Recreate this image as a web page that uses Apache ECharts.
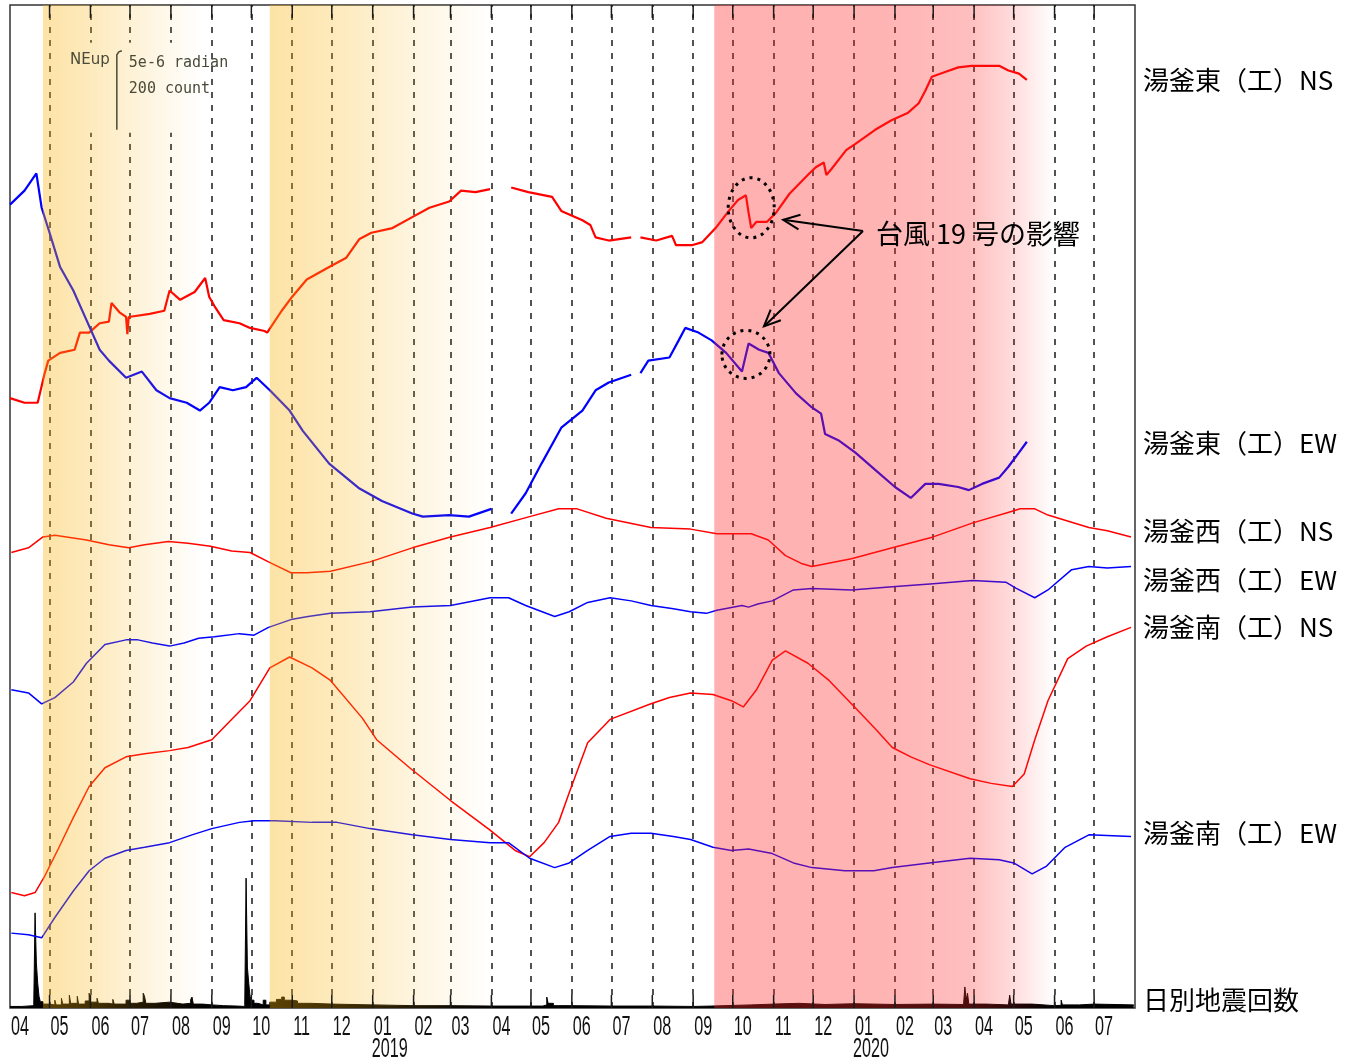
<!DOCTYPE html>
<html><head><meta charset="utf-8">
<script src="https://cdn.jsdelivr.net/npm/echarts@6/dist/echarts.min.js"></script>
<style>html,body{margin:0;padding:0;background:#fff}#c{width:1356px;height:1061px}</style>
</head><body><div id="c"></div>
<script>
// ---------------- data ----------------
const MONTHS = ['2018-04-01','2018-05-01','2018-06-01','2018-07-01','2018-08-01','2018-09-01','2018-10-01','2018-11-01','2018-12-01',
  '2019-01-01','2019-02-01','2019-03-01','2019-04-01','2019-05-01','2019-06-01','2019-07-01','2019-08-01','2019-09-01','2019-10-01','2019-11-01','2019-12-01',
  '2020-01-01','2020-02-01','2020-03-01','2020-04-01','2020-05-01','2020-06-01','2020-07-01'];
const MONTH_LABELS = ['04','05','06','07','08','09','10','11','12','01','02','03','04','05','06','07','08','09','10','11','12','01','02','03','04','05','06','07'];
const YEAR_AT = ['2019-01-01','2020-01-01'];
const YEAR_LABELS = ['2019','2020'];
const X_RANGE = ['2018-04-01','2020-08-01'];
const BANDS_YELLOW = [['2018-04-26','2018-08-26'],['2018-10-15','2019-04-02']];
const BAND_RED = ['2019-09-17','2020-06-01'];
const STATION_LABELS = ['湯釜東（工）NS','湯釜東（工）EW','湯釜西（工）NS','湯釜西（工）EW','湯釜南（工）NS','湯釜南（工）EW','日別地震回数'];
const NOTE_TEXT = '台風 19 号の影響';
const SCALE_TEXT = ['NEup','5e-6 radian','200 count'];

// tilt, µrad (arbitrary per-trace offset)
const EAST_NS = [['2018-04-01',39.1],['2018-04-12',38.8],['2018-04-22',38.8],['2018-04-27',40.6],['2018-04-30',41.5],['2018-05-09',42.0],['2018-05-20',42.2],['2018-05-24',43.3],['2018-05-31',43.3],['2018-06-08',43.9],['2018-06-15',44.0],['2018-06-17',45.2],['2018-06-23',44.6],['2018-06-28',44.3],['2018-06-29',43.2],['2018-06-30',44.3],['2018-07-16',44.5],['2018-07-27',44.7],['2018-07-31',46.0],['2018-08-08',45.4],['2018-08-19',45.9],['2018-08-27',46.8],['2018-08-30',45.6],['2018-09-03',45.0],['2018-09-10',44.1],['2018-09-22',43.9],['2018-09-30',43.6],['2018-10-11',43.4],['2018-10-13',43.3],['2018-10-24',44.7],['2018-11-01',45.6],['2018-11-12',46.7],['2018-11-29',47.5],['2018-12-12',48.1],['2018-12-22',49.3],['2018-12-31',49.7],['2019-01-16',50.0],['2019-01-31',50.7],['2019-02-13',51.3],['2019-02-28',51.7],['2019-03-09',52.4],['2019-03-20',52.3],['2019-03-31',52.5],['2019-04-08',null],['2019-04-16',52.6],['2019-04-29',52.3],['2019-05-17',52.0],['2019-05-24',51.1],['2019-06-09',50.5],['2019-06-15',50.2],['2019-06-19',49.4],['2019-06-29',49.2],['2019-07-16',49.4],['2019-07-20',null],['2019-07-23',49.4],['2019-08-04',49.2],['2019-08-16',49.5],['2019-08-19',48.9],['2019-08-31',48.9],['2019-09-08',49.1],['2019-09-18',50.0],['2019-09-28',51.1],['2019-10-05',51.8],['2019-10-11',52.1],['2019-10-13',51.0],['2019-10-15',50.0],['2019-10-19',50.4],['2019-10-27',50.4],['2019-11-03',51.0],['2019-11-13',52.2],['2019-11-28',53.5],['2019-12-03',53.9],['2019-12-09',54.2],['2019-12-11',53.4],['2019-12-15',53.8],['2019-12-26',55.0],['2020-01-02',55.4],['2020-01-17',56.3],['2020-01-29',56.9],['2020-02-11',57.4],['2020-02-19',58.0],['2020-02-24',58.8],['2020-02-29',59.7],['2020-03-10',60.0],['2020-03-20',60.3],['2020-03-30',60.4],['2020-04-12',60.4],['2020-04-20',60.4],['2020-04-27',60.1],['2020-05-05',59.9],['2020-05-11',59.5]];
const EAST_EW = [['2018-04-01',51.5],['2018-04-12',52.4],['2018-04-21',53.5],['2018-04-25',51.3],['2018-05-01',49.7],['2018-05-09',47.5],['2018-05-19',46.0],['2018-05-29',44.1],['2018-06-08',42.2],['2018-06-15',41.5],['2018-06-28',40.4],['2018-07-10',40.8],['2018-07-21',39.6],['2018-07-31',39.1],['2018-08-13',38.8],['2018-08-23',38.3],['2018-08-30',38.8],['2018-09-07',39.8],['2018-09-17',39.6],['2018-09-27',39.8],['2018-10-05',40.4],['2018-10-15',39.6],['2018-10-30',38.3],['2018-11-09',37.0],['2018-11-29',34.9],['2018-12-22',33.3],['2019-01-08',32.5],['2019-01-31',31.7],['2019-02-08',31.5],['2019-02-28',31.6],['2019-03-15',31.5],['2019-04-01',32.0],['2019-04-08',null],['2019-04-16',31.7],['2019-04-27',33.0],['2019-05-09',34.9],['2019-05-24',37.2],['2019-06-09',38.3],['2019-06-19',39.6],['2019-06-29',40.1],['2019-07-16',40.6],['2019-07-20',null],['2019-07-23',40.7],['2019-07-29',41.5],['2019-08-14',41.7],['2019-08-21',42.8],['2019-08-26',43.6],['2019-09-05',43.3],['2019-09-15',42.8],['2019-09-26',42.0],['2019-10-08',40.8],['2019-10-13',42.6],['2019-10-21',42.2],['2019-10-28',42.0],['2019-11-05',40.7],['2019-11-18',39.4],['2019-11-30',38.5],['2019-12-07',38.1],['2019-12-10',36.8],['2019-12-20',36.4],['2020-01-02',35.6],['2020-01-17',34.5],['2020-02-01',33.4],['2020-02-13',32.7],['2020-02-24',33.6],['2020-03-05',33.6],['2020-03-20',33.4],['2020-03-28',33.2],['2020-04-07',33.6],['2020-04-20',34.0],['2020-04-27',34.7],['2020-05-05',35.6],['2020-05-11',36.3]];
const WEST_NS = [['2018-04-02',29.2],['2018-04-15',29.5],['2018-04-26',30.2],['2018-05-05',30.3],['2018-05-29',30.0],['2018-06-15',29.7],['2018-06-30',29.5],['2018-07-12',29.7],['2018-07-30',29.9],['2018-08-14',29.8],['2018-08-31',29.6],['2018-09-16',29.3],['2018-09-30',29.2],['2018-10-14',28.6],['2018-10-31',27.9],['2018-11-12',27.9],['2018-11-30',28.0],['2018-12-30',28.6],['2019-01-31',29.5],['2019-03-01',30.2],['2019-03-31',30.8],['2019-04-30',31.5],['2019-05-22',32.0],['2019-06-05',32.0],['2019-06-27',31.4],['2019-07-31',30.8],['2019-08-30',30.7],['2019-09-19',30.4],['2019-10-08',30.4],['2019-10-15',30.4],['2019-10-28',30.0],['2019-11-10',29.0],['2019-11-22',28.5],['2019-11-30',28.3],['2019-12-30',28.8],['2020-01-30',29.5],['2020-03-01',30.2],['2020-03-31',31.1],['2020-04-28',31.8],['2020-05-06',32.0],['2020-05-17',32.0],['2020-05-27',31.6],['2020-06-27',30.8],['2020-07-11',30.6],['2020-07-29',30.2]];
const WEST_EW = [['2018-04-02',20.4],['2018-04-15',20.2],['2018-04-25',19.5],['2018-05-05',19.9],['2018-05-19',20.9],['2018-05-29',22.1],['2018-06-12',23.3],['2018-06-28',23.6],['2018-07-07',23.6],['2018-07-18',23.4],['2018-07-31',23.2],['2018-08-11',23.4],['2018-08-22',23.7],['2018-09-03',23.8],['2018-09-22',24.0],['2018-10-03',23.9],['2018-10-14',24.4],['2018-10-31',24.9],['2018-11-13',25.1],['2018-11-30',25.3],['2018-12-30',25.4],['2019-01-31',25.7],['2019-03-01',25.8],['2019-03-31',26.3],['2019-04-14',26.3],['2019-04-27',25.8],['2019-05-19',25.1],['2019-05-30',25.4],['2019-06-13',26.0],['2019-06-30',26.3],['2019-07-16',26.1],['2019-07-31',25.8],['2019-08-17',25.6],['2019-08-30',25.4],['2019-09-11',25.3],['2019-09-19',25.5],['2019-10-08',25.8],['2019-10-13',25.7],['2019-10-20',25.9],['2019-10-31',26.1],['2019-11-16',26.8],['2019-11-30',26.9],['2019-12-30',26.8],['2020-01-30',27.0],['2020-03-01',27.2],['2020-03-31',27.4],['2020-04-25',27.3],['2020-05-03',26.9],['2020-05-17',26.3],['2020-05-27',26.8],['2020-06-14',28.1],['2020-06-27',28.3],['2020-07-11',28.2],['2020-07-29',28.3]];
const SOUTH_NS = [['2018-04-02',7.4],['2018-04-12',7.2],['2018-04-20',7.4],['2018-04-27',8.4],['2018-05-07',10.1],['2018-05-19',12.2],['2018-05-31',14.2],['2018-06-12',15.4],['2018-06-28',16.1],['2018-07-12',16.3],['2018-07-31',16.5],['2018-08-14',16.7],['2018-09-01',17.2],['2018-09-16',18.5],['2018-09-30',19.7],['2018-10-15',21.8],['2018-10-30',22.5],['2018-11-16',21.8],['2018-11-30',21.0],['2018-12-24',18.6],['2019-01-04',17.2],['2019-01-29',15.4],['2019-03-01',13.3],['2019-03-31',11.4],['2019-04-19',10.1],['2019-04-30',9.7],['2019-05-11',10.6],['2019-05-22',11.9],['2019-05-30',13.8],['2019-06-13',17.0],['2019-06-30',18.5],['2019-07-31',19.5],['2019-08-14',19.9],['2019-08-30',20.2],['2019-09-16',20.1],['2019-09-30',19.7],['2019-10-09',19.3],['2019-10-19',20.4],['2019-10-31',22.3],['2019-11-10',22.9],['2019-11-27',22.1],['2019-12-13',21.0],['2019-12-30',19.5],['2020-01-16',18.0],['2020-01-30',16.7],['2020-02-13',16.1],['2020-02-27',15.6],['2020-03-29',14.7],['2020-04-14',14.4],['2020-04-30',14.2],['2020-05-09',15.0],['2020-05-17',17.2],['2020-05-27',19.7],['2020-06-11',22.4],['2020-06-25',23.2],['2020-07-11',23.8],['2020-07-29',24.4]];
const SOUTH_EW = [['2018-04-02',4.8],['2018-04-15',4.7],['2018-04-25',4.5],['2018-05-05',5.8],['2018-05-19',7.5],['2018-05-31',8.8],['2018-06-12',9.6],['2018-06-28',10.1],['2018-07-12',10.3],['2018-07-31',10.6],['2018-08-17',11.1],['2018-09-01',11.5],['2018-09-22',11.9],['2018-10-03',12.0],['2018-10-19',12.0],['2018-11-16',11.9],['2018-12-05',11.9],['2018-12-30',11.5],['2019-01-31',11.1],['2019-03-01',10.8],['2019-03-31',10.6],['2019-04-14',10.6],['2019-04-30',9.6],['2019-05-19',9.0],['2019-05-30',9.3],['2019-06-13',10.1],['2019-06-30',11.0],['2019-07-16',11.2],['2019-07-31',11.2],['2019-08-17',11.0],['2019-08-30',10.8],['2019-09-16',10.3],['2019-09-30',10.1],['2019-10-13',10.2],['2019-10-31',9.9],['2019-11-16',9.3],['2019-11-30',9.0],['2019-12-25',8.8],['2020-01-16',8.8],['2020-01-30',9.0],['2020-02-27',9.3],['2020-03-29',9.6],['2020-04-20',9.5],['2020-05-01',9.3],['2020-05-15',8.6],['2020-05-26',9.1],['2020-06-09',10.3],['2020-06-27',11.1],['2020-07-29',11.0]];
// daily earthquake counts
const QUAKE_COUNTS = [['2018-04-01',4],['2018-04-10',6],['2018-04-19',9],['2018-04-20',244],['2018-04-21',115],['2018-04-22',64],['2018-04-23',30],['2018-04-24',16],['2018-04-26',10],['2018-05-01',8],['2018-05-05',20],['2018-05-06',8],['2018-05-10',25],['2018-05-11',10],['2018-05-16',33],['2018-05-17',12],['2018-05-22',30],['2018-05-23',10],['2018-05-28',18],['2018-05-31',38],['2018-06-01',15],['2018-06-06',25],['2018-06-07',12],['2018-06-15',10],['2018-06-18',22],['2018-06-19',10],['2018-06-28',20],['2018-07-01',12],['2018-07-06',15],['2018-07-11',38],['2018-07-12',30],['2018-07-13',12],['2018-07-20',15],['2018-07-31',10],['2018-08-10',12],['2018-08-16',22],['2018-08-17',28],['2018-08-18',10],['2018-08-25',8],['2018-09-01',12],['2018-09-02',6],['2018-09-10',5],['2018-09-20',4],['2018-09-26',10],['2018-09-27',333],['2018-09-28',105],['2018-09-29',64],['2018-09-30',30],['2018-10-01',20],['2018-10-03',12],['2018-10-06',8],['2018-10-10',20],['2018-10-12',8],['2018-10-15',15],['2018-10-20',22],['2018-10-24',28],['2018-10-26',20],['2018-11-01',18],['2018-11-05',12],['2018-11-15',10],['2018-12-01',8],['2019-01-01',6],['2019-02-01',6],['2019-03-01',5],['2019-04-01',5],['2019-05-10',8],['2019-05-13',28],['2019-05-14',12],['2019-05-18',6],['2019-06-01',5],['2019-07-01',5],['2019-08-01',4],['2019-09-01',5],['2019-09-15',8],['2019-10-15',10],['2019-11-01',12],['2019-11-20',9],['2019-12-10',11],['2020-01-01',9],['2020-02-01',10],['2020-03-01',9],['2020-03-24',12],['2020-03-25',54],['2020-03-26',20],['2020-03-27',38],['2020-03-28',10],['2020-04-10',8],['2020-04-27',12],['2020-04-28',33],['2020-04-29',10],['2020-05-15',6],['2020-06-01',7],['2020-06-06',20],['2020-06-07',8],['2020-06-20',10],['2020-07-01',8],['2020-07-31',6]];

(function(){
// ---------------- helpers ----------------
function toTs(s){const p=s.split('-');return new Date(+p[0],+p[1]-1,+p[2]).getTime();}
function pts(arr){return arr.map(d=>[toTs(d[0]), d[1]===null?null:d[1]]);}
const TILT_MAX = 64.3;              // µrad over plot height
const COUNT_MAX = TILT_MAX*40;      // 5 µrad <-> 200 count
const RED='#ff0000', BLUE='#0000ff';
const Y_RGB='249,178,12', R_RGB='255,41,41';
function grad(rgb, stops){return {type:'linear',x:0,y:0,x2:1,y2:0,colorStops:stops.map(s=>({offset:s[0],color:'rgba('+rgb+','+s[1]+')'}))};}

const chart = echarts.init(document.getElementById('c'), null, {renderer:'canvas'});
function tiltSeries(name, data, color, width){
  return {name, type:'line', data:pts(data), symbol:'none', connectNulls:false, z:2,
    lineStyle:{color, width}, itemStyle:{color}, silent:true};
}
const option = {
  animation:false,
  backgroundColor:'#fff',
  grid:{left:10, top:5, right:221, bottom:53, show:true, borderColor:'#333', borderWidth:1.5, backgroundColor:'#fff'},
  xAxis:[{type:'time', min:toTs(X_RANGE[0]), max:toTs(X_RANGE[1]), axisLabel:{show:false}, axisTick:{show:false}, axisLine:{show:false}, splitLine:{show:false}}],
  yAxis:[{type:'value', min:0, max:TILT_MAX, show:false, splitLine:{show:false}},
         {type:'value', min:0, max:COUNT_MAX, show:false, splitLine:{show:false}}],
  series:[
    {name:STATION_LABELS[6], type:'line', yAxisIndex:1, step:'end', symbol:'none', data:pts(QUAKE_COUNTS), z:2, silent:true,
     lineStyle:{color:'#000', width:1}, areaStyle:{color:'#000', opacity:1},
     markLine:{silent:true, z:1, symbol:['none','none'], label:{show:false},
       lineStyle:{color:'#1a1a1a', width:1.5, type:[6,7]},
       data:MONTHS.slice(1).map(m=>({xAxis:toTs(m)}))},
     markArea:{silent:true, z:10, label:{show:false},
       data:[
        [{xAxis:toTs(BANDS_YELLOW[0][0]), itemStyle:{color:grad(Y_RGB,[[0,0.37],[0.3,0.27],[0.6,0.15],[0.85,0.05],[1,0]])}},{xAxis:toTs(BANDS_YELLOW[0][1])}],
        [{xAxis:toTs(BANDS_YELLOW[1][0]), itemStyle:{color:grad(Y_RGB,[[0,0.37],[0.3,0.27],[0.6,0.15],[0.85,0.05],[1,0]])}},{xAxis:toTs(BANDS_YELLOW[1][1])}],
        [{xAxis:toTs(BAND_RED[0]), itemStyle:{color:grad(R_RGB,[[0,0.37],[0.5,0.35],[0.75,0.3],[0.88,0.16],[1,0]])}},{xAxis:toTs(BAND_RED[1])}]
       ]}
    },
    tiltSeries(STATION_LABELS[0], EAST_NS, RED, 2.2),
    tiltSeries(STATION_LABELS[1], EAST_EW, BLUE, 2.2),
    tiltSeries(STATION_LABELS[2], WEST_NS, RED, 1.5),
    tiltSeries(STATION_LABELS[3], WEST_EW, BLUE, 1.5),
    tiltSeries(STATION_LABELS[4], SOUTH_NS, RED, 1.5),
    tiltSeries(STATION_LABELS[5], SOUTH_EW, BLUE, 1.5)
  ]
};
chart.setOption(option);

// ---------------- decorations ----------------
function px(date, v){return chart.convertToPixel({xAxisIndex:0, yAxisIndex:0}, [toTs(date), v]);}
const els = [];
const plotTop = px(X_RANGE[0], TILT_MAX)[1], plotBottom = px(X_RANGE[0], 0)[1];
function txt(x, y, text, font, fill, align, extra){
  return Object.assign({type:'text', z:20, x, y, style:{text, font, fill, textAlign:align, textVerticalAlign:'middle', align, verticalAlign:'middle'}}, extra||{});
}
MONTHS.forEach((m,i)=>{
  const x = px(m,0)[0];
  if(i>0){
    els.push({type:'line', z:20, shape:{x1:x,y1:plotTop,x2:x,y2:plotTop+13}, style:{stroke:'#1a1a1a', lineWidth:1.5}});
    els.push({type:'line', z:20, shape:{x1:x,y1:plotBottom-13,x2:x,y2:plotBottom}, style:{stroke:'#1a1a1a', lineWidth:1.5}});
  }
  els.push(txt(x+1, 1028, MONTH_LABELS[i], '27px "Liberation Sans"', '#111', 'left', {scaleX:0.6}));
});
YEAR_AT.forEach((m,i)=>{
  const x = px(m,0)[0];
  els.push(txt(x-1, 1050, YEAR_LABELS[i], '27px "Liberation Sans"', '#111', 'left', {scaleX:0.6}));
});
const labelY = [80,443,531,580,627,833,1000];
STATION_LABELS.forEach((t,i)=>{
  els.push(txt(1143, labelY[i], t, '26px "Noto Sans CJK JP"', '#000', 'left'));
});
// scale bar (5 µrad / 200 count) with a cleared box behind it (under the shading)
const sbTop = px('2018-06-21', 61.3), sbBot = px('2018-06-21', 56.3);
els.push({type:'rect', z:5, shape:{x:sbTop[0]-50, y:sbTop[1]-9, width:138, height:sbBot[1]-sbTop[1]+12}, style:{fill:'#fff'}});
els.push({type:'polyline', z:20, shape:{points:[[sbTop[0]+5,sbTop[1]-1],[sbTop[0]+2,sbTop[1]],[sbTop[0],sbTop[1]+3],[sbBot[0],sbBot[1]]]},
  style:{stroke:'#4a4a3a', lineWidth:1.5, fill:null}});
els.push(txt(sbTop[0]-7, sbTop[1]+8, SCALE_TEXT[0], '15px "DejaVu Sans"', '#4a4a3a', 'right'));
els.push(txt(sbTop[0]+12, sbTop[1]+11, SCALE_TEXT[1], '15px "DejaVu Sans Mono"', '#4a4a3a', 'left'));
els.push(txt(sbTop[0]+12, sbTop[1]+37, SCALE_TEXT[2], '15px "DejaVu Sans Mono"', '#4a4a3a', 'left'));
// typhoon annotation
const c1 = px('2019-10-15', 51.3), c2 = px('2019-10-11', 41.9);
els.push({type:'ellipse', z:20, shape:{cx:c1[0], cy:c1[1], rx:23, ry:30}, style:{fill:null, stroke:'#000', lineWidth:3, lineDash:[3,5]}});
els.push({type:'ellipse', z:20, shape:{cx:c2[0], cy:c2[1], rx:24, ry:24}, style:{fill:null, stroke:'#000', lineWidth:3, lineDash:[3,5]}});
const noteX = 876, noteY = 234;
els.push(txt(noteX, noteY, NOTE_TEXT, '27px "Noto Sans CJK JP"', '#000', 'left'));
function arrow(from, to){
  const dx=to[0]-from[0], dy=to[1]-from[1], L=Math.hypot(dx,dy), bx=-dx/L, by=-dy/L, a=0.42, h=18;
  const c=Math.cos(a), s=Math.sin(a);
  const p1=[to[0]+h*(bx*c-by*s), to[1]+h*(bx*s+by*c)];
  const p2=[to[0]+h*(bx*c+by*s), to[1]+h*(-bx*s+by*c)];
  els.push({type:'line', z:20, shape:{x1:from[0],y1:from[1],x2:to[0],y2:to[1]}, style:{stroke:'#000', lineWidth:2}});
  els.push({type:'polyline', z:20, shape:{points:[p1,to,p2]}, style:{stroke:'#000', lineWidth:2, fill:null}});
}
const origin = [noteX-13, noteY-3];
arrow(origin, [c1[0]+32, c1[1]+12]);
arrow(origin, [c2[0]+18, c2[1]-28]);
chart.setOption({graphic:{elements:els}});
})();
</script></body></html>
